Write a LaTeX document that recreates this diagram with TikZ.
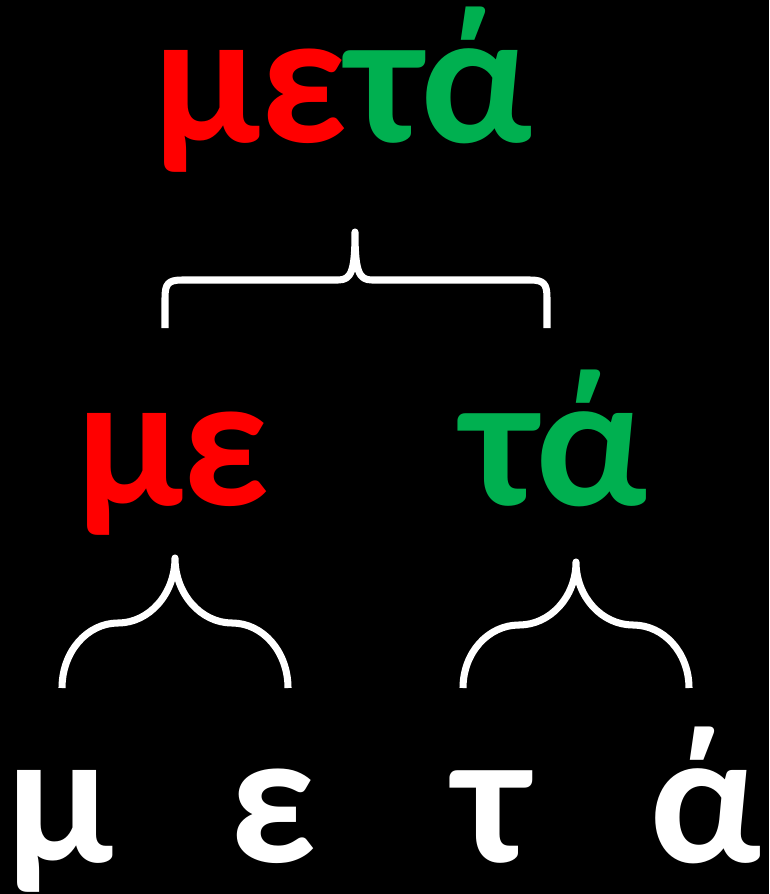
\documentclass[tikz,border=0pt]{standalone}
\usepackage{fontspec}
\setmainfont{Carlito}
\usepackage{xcolor}
\usepackage{tikz}
\definecolor{wordred}{RGB}{255,0,0}
\definecolor{wordgreen}{RGB}{0,176,80}
\tikzset{
    glyph/.style={inner sep=0pt, anchor=base, text=white,
        font=\fontsize{54}{60}\selectfont\bfseries},
    redglyph/.style={glyph, text=wordred},
    greenglyph/.style={glyph, text=wordgreen},
    brace/.style={draw=white, line width=2pt, line join=round},
}
\begin{document}
\begin{tikzpicture}[x=0.01cm, y=-0.01cm]
    \fill[black] (0,0) rectangle (769,894);
    \useasboundingbox (0,0) rectangle (769,894);

    % the whole word
    \node[glyph] (word) at (343,143) {\textcolor{wordred}{με}\textcolor{wordgreen}{τά}};

    % the two syllables
    \node[redglyph] (me) at (173,505) {με};
    \node[greenglyph] (ta) at (555,505) {τά};

    % the single letters
    \node[glyph] (mu) at (60,862) {μ};
    \node[glyph] (epsilon) at (273,862) {ε};
    \node[glyph] (tau) at (492,862) {τ};
    \node[glyph] (alpha) at (706,862) {ά};

    % brace under the word
    \coordinate (wordtip) at (355,232);
    \coordinate (wordleft) at (165,328);
    \coordinate (wordright) at (547,328);
    \draw[brace] (wordleft) -- (165,298) .. controls (165,284) and (168,280) .. (182,280)
        -- (338,280) .. controls (351,280) and (355,272) .. (wordtip)
        .. controls (355,272) and (359,280) .. (372,280)
        -- (530,280) .. controls (544,280) and (547,284) .. (547,298) -- (wordright);

    % braces under the syllables
    \coordinate (metip) at (175,558);
    \coordinate (meleft) at (62,688);
    \coordinate (meright) at (288,688);
    \draw[brace] (meleft) .. controls (62,652) and (87,623) .. (118,623)
        .. controls (149,623) and (175,594) .. (metip)
        .. controls (175,594) and (201,623) .. (232,623)
        .. controls (263,623) and (288,652) .. (meright);

    \coordinate (tatip) at (576,562);
    \coordinate (taleft) at (463,688);
    \coordinate (taright) at (689,688);
    \draw[brace] (taleft) .. controls (463,653) and (488,625) .. (519,625)
        .. controls (550,625) and (576,597) .. (tatip)
        .. controls (576,597) and (602,625) .. (633,625)
        .. controls (664,625) and (689,653) .. (taright);
\end{tikzpicture}
\end{document}
